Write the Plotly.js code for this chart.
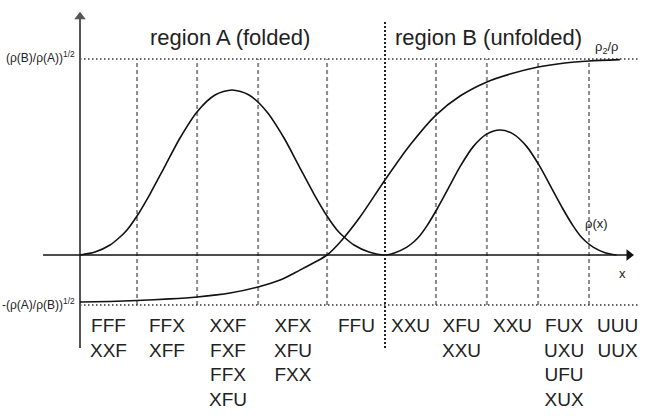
<!DOCTYPE html>
<html><head><meta charset="utf-8">
<script src="https://cdn.plot.ly/plotly-3.0.1.min.js"></script>
<style>html,body{margin:0;padding:0;background:#fff}#chart{width:646px;height:416px}</style>
</head><body><div id="chart"></div>
<script>
// sigmoid rho2/rho
const sigX = [0, 0.98, 1.87, 2.95, 3.84, 4.92, 5.84, 6.56, 7.21, 7.71, 8.10, 8.59, 9.18, 10.0, 10.82, 11.67, 12.46, 13.34, 14.10, 15.02, 15.90, 16.69, 17.70];
const sigY = [-0.240, -0.237, -0.232, -0.224, -0.214, -0.194, -0.163, -0.128, -0.077, -0.036, 0, 0.077, 0.194, 0.383, 0.561, 0.714, 0.811, 0.883, 0.923, 0.959, 0.980, 0.990, 0.997];
// rho(x)
const rhoX = [0, 0.492, 0.984, 1.311, 1.541, 1.869, 2.295, 2.787, 3.279, 3.836, 4.426, 4.984, 5.541, 6.131, 6.689, 7.180, 7.672, 8.098, 8.426, 8.656, 8.984, 9.475, 10.0,
              10.328, 10.705, 10.957, 11.134, 11.384, 11.711, 12.089, 12.466, 12.892, 13.344, 13.770, 14.197, 14.649, 15.075, 15.452, 15.830, 16.157, 16.407, 16.584, 16.836, 17.213, 17.590];
const rhoY = [0, 0.015, 0.051, 0.092, 0.128, 0.199, 0.311, 0.454, 0.597, 0.730, 0.816, 0.842, 0.816, 0.730, 0.597, 0.454, 0.311, 0.199, 0.128, 0.092, 0.051, 0.015, 0,
              0.012, 0.039, 0.069, 0.097, 0.151, 0.236, 0.344, 0.452, 0.553, 0.618, 0.638, 0.618, 0.553, 0.452, 0.344, 0.236, 0.151, 0.097, 0.069, 0.039, 0.012, 0];
const gridLines = [1.87, 3.84, 5.84, 8.10, 11.67, 13.34, 15.02, 16.69];
const divider = 10;
const upperLevel = 1.0;
const lowerLevel = -0.255;
const columnEdges = [0, 1.87, 3.84, 5.84, 8.10, 10, 11.67, 13.34, 15.02, 16.69, 18.56];
const columnLabels = [["FFF","XXF"],["FFX","XFF"],["XXF","FXF","FFX","XFU"],["XFX","XFU","FXX"],["FFU"],["XXU"],["XFU","XXU"],["XXU"],["FUX","UXU","UFU","XUX"],["UUU","UUX"]];
const regionLabels = ["region A (folded)", "region B (unfolded)"];
const regionCenters = [4.92, 13.38];
const upperLabel = "(ρ(B)/ρ(A))<sup>1/2</sup>";
const lowerLabel = "-(ρ(A)/ρ(B))<sup>1/2</sup>";
// axis extents
const yAxisSpan = [-0.474, 1.215];
const xAxisSpan = [-1.21, 18.0];

const FONT = "Liberation Sans, Arial, Helvetica, sans-serif";
const TXT = "#222";

const traces = [
  {x: [0, 0], y: yAxisSpan, mode: "lines", line: {color: "#555", width: 2}, hoverinfo: "skip"},
  {x: xAxisSpan, y: [0, 0], mode: "lines", line: {color: "#111", width: 1.5}, hoverinfo: "skip"},
  {x: [0], y: [yAxisSpan[1]], mode: "markers", marker: {symbol: "triangle-up", size: 10, color: "#555"}, hoverinfo: "skip"},
  {x: [xAxisSpan[1]], y: [0], mode: "markers", marker: {symbol: "triangle-right", size: 10, color: "#111"}, hoverinfo: "skip"},
  {x: sigX, y: sigY, mode: "lines", line: {color: "#111", width: 1.6, shape: "spline", smoothing: 0.8}, hoverinfo: "skip"},
  {x: rhoX, y: rhoY, mode: "lines", line: {color: "#111", width: 1.6, shape: "spline", smoothing: 0.8}, hoverinfo: "skip"}
];

const shapes = [];
gridLines.forEach(g => shapes.push({type: "line", xref: "x", yref: "y", x0: g, x1: g, y0: lowerLevel, y1: upperLevel,
  line: {color: "#8c8c8c", width: 2, dash: "4px,3px"}, layer: "below"}));
shapes.push({type: "line", xref: "x", yref: "y", x0: 0, x1: 18.36, y0: upperLevel, y1: upperLevel, line: {color: "#333", width: 1.5, dash: "1.5px,2.5px"}, layer: "below"});
shapes.push({type: "line", xref: "x", yref: "y", x0: 0, x1: 18.36, y0: lowerLevel, y1: lowerLevel, line: {color: "#333", width: 1.5, dash: "1.5px,2.5px"}, layer: "below"});
shapes.push({type: "line", xref: "x", yref: "y", x0: divider, x1: divider, y0: -0.474, y1: 1.199, line: {color: "#222", width: 2, dash: "2px,2px"}});

const annotations = [];
regionLabels.forEach((t, i) => annotations.push({x: regionCenters[i], y: 1.112, xref: "x", yref: "y", text: t, showarrow: false,
  font: {family: FONT, size: 22, color: TXT}}));
columnLabels.forEach((lines, i) => annotations.push({x: (columnEdges[i] + columnEdges[i+1]) / 2, y: -0.294, xref: "x", yref: "y",
  text: lines.join("<br>"), showarrow: false, yanchor: "top", align: "center", font: {family: FONT, size: 19, color: TXT}}));
annotations.push({x: -0.1, y: 1.01, xref: "x", yref: "y", xanchor: "right", text: upperLabel, showarrow: false, font: {family: FONT, size: 12, color: TXT}});
annotations.push({x: -0.1, y: -0.25, xref: "x", yref: "y", xanchor: "right", text: lowerLabel, showarrow: false, font: {family: FONT, size: 12, color: TXT}});
annotations.push({x: 17.25, y: 1.061, xref: "x", yref: "y", text: "ρ<sub>2</sub>/ρ", showarrow: false, font: {family: FONT, size: 13, color: TXT}});
annotations.push({x: 16.95, y: 0.16, xref: "x", yref: "y", text: "ρ(x)", showarrow: false, font: {family: FONT, size: 13, color: TXT}});
annotations.push({x: 17.80, y: -0.092, xref: "x", yref: "y", text: "x", showarrow: false, font: {family: FONT, size: 13, color: TXT}});

const layout = {
  width: 646, height: 416,
  margin: {l: 0, r: 0, t: 0, b: 0},
  paper_bgcolor: "#fff", plot_bgcolor: "#fff",
  showlegend: false,
  xaxis: {range: [-2.623, 18.557], visible: false, showgrid: false, zeroline: false, fixedrange: true},
  yaxis: {range: [-0.8214, 1.3010], visible: false, showgrid: false, zeroline: false, fixedrange: true},
  shapes: shapes,
  annotations: annotations
};
Plotly.newPlot("chart", traces, layout, {displayModeBar: false, staticPlot: true});
</script>
</body></html>
